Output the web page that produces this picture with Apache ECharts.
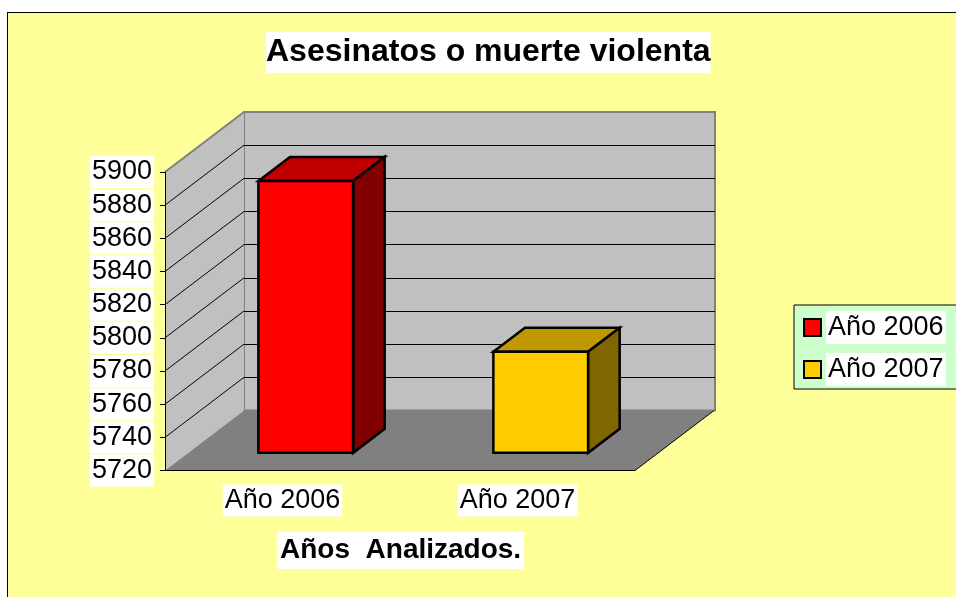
<!DOCTYPE html>
<html>
<head>
<meta charset="utf-8">
<title>Asesinatos o muerte violenta</title>
<script src="https://cdn.jsdelivr.net/npm/echarts@6/dist/echarts.min.js"></script>
<style>
  html, body { margin: 0; padding: 0; background: #fff; overflow: hidden; }
  .marco {
    position: absolute; left: 7px; top: 12px;
    width: 990px; height: 630px;
    border: 1px solid #000; background: #ffff99;
  }
  #grafico { position: absolute; left: 0; top: 0; width: 956px; height: 597px; }
</style>
</head>
<body>
<div class="marco"></div>
<div id="grafico"></div>
<script>
// datos
const categorias = ["Año 2006", "Año 2007"];
const valores = [5884, 5781];
const ticksY = [5720, 5740, 5760, 5780, 5800, 5820, 5840, 5860, 5880, 5900];
const titulo = "Asesinatos o muerte violenta";
const tituloEje = "Años  Analizados.";

// colores de cada barra: frente, arriba, lado
const colores = [
  ["#ff0000", "#c00000", "#800000"],
  ["#ffcc00", "#c09900", "#806600"]
];

const fuente = '"Liberation Sans", Arial, sans-serif';
const ejeMin = ticksY[0];
const ejeMax = ticksY[ticksY.length - 1];
const intervalo = ticksY[1] - ticksY[0];

// proyeccion 3D (desplazamiento de la pared del fondo)
const DX = 79, DY = -60;
const F1 = 0.294, F2 = 0.694; // profundidad de la cara frontal / trasera de la barra
const ANCHO_BARRA = 0.403;

const chart = echarts.init(document.getElementById("grafico"));

function barra3d(caras) {
  return function (params, api) {
    let cat = api.value(0);
    let cima = api.coord([cat, api.value(1)]);
    let base = api.coord([cat, ejeMin]);
    let ancho = api.size([1, 0])[0] * ANCHO_BARRA;
    let x0 = cima[0] - ancho / 2 + F1 * DX;
    let x1 = x0 + ancho;
    let yT = cima[1] + F1 * DY;
    let yB = base[1] + F1 * DY;
    let bx = (F2 - F1) * DX, by = (F2 - F1) * DY;
    let borde = { stroke: "#000", lineWidth: 2.5, lineJoin: "miter" };
    return {
      type: "group",
      children: [
        {
          type: "polygon",
          shape: { points: [[x0, yT], [x1, yT], [x1 + bx, yT + by], [x0 + bx, yT + by]] },
          style: Object.assign({ fill: caras[1] }, borde)
        },
        {
          type: "polygon",
          shape: { points: [[x1, yT], [x1 + bx, yT + by], [x1 + bx, yB + by], [x1, yB]] },
          style: Object.assign({ fill: caras[2] }, borde)
        },
        {
          type: "rect",
          shape: { x: x0, y: yT, width: ancho, height: yB - yT },
          style: Object.assign({ fill: caras[0] }, borde)
        }
      ]
    };
  };
}

let option = {
  backgroundColor: "transparent",
  animation: false,
  title: [
    {
      text: titulo,
      left: 266,
      top: 32,
      padding: [4, 0],
      backgroundColor: "#fff",
      textStyle: { fontFamily: fuente, fontWeight: "bold", fontSize: 32, lineHeight: 33, color: "#000" }
    },
    {
      text: tituloEje,
      left: 277,
      top: 532,
      padding: [4, 3],
      backgroundColor: "#fff",
      textStyle: { fontFamily: fuente, fontWeight: "bold", fontSize: 28, lineHeight: 29, color: "#000" }
    }
  ],
  legend: {
    data: categorias.map((c, i) => ({
      name: c,
      itemStyle: { color: colores[i][0], borderColor: "#000", borderWidth: 2 }
    })),
    orient: "vertical",
    left: 794,
    top: 305,
    padding: [6, 20, 3, 9],
    itemGap: 9,
    itemWidth: 17,
    itemHeight: 17,
    icon: "rect",
    selectedMode: false,
    backgroundColor: "#ccffcc",
    borderColor: "#000",
    borderWidth: 1,
    textStyle: {
      fontFamily: fuente, fontSize: 27, color: "#000",
      backgroundColor: "#fff", padding: [2, 2], lineHeight: 29
    }
  },
  grid: [
    { left: 165, top: 172, width: 470, height: 298.5 },
    {
      left: 165 + DX, top: 172 + DY, width: 471, height: 298.5,
      show: true, backgroundColor: "#c0c0c0", borderColor: "#808080", borderWidth: 2, z: 0
    }
  ],
  xAxis: [
    {
      gridIndex: 0,
      type: "category",
      data: categorias,
      z: 4,
      axisLine: { lineStyle: { color: "#000", width: 1 } },
      axisTick: { length: 6, lineStyle: { color: "#000" } },
      axisLabel: {
        margin: 14, fontFamily: fuente, fontSize: 27, color: "#000",
        backgroundColor: "#fff", padding: [2, 2], lineHeight: 28
      }
    },
    { gridIndex: 1, type: "category", data: categorias, show: false }
  ],
  yAxis: [
    {
      gridIndex: 0,
      type: "value",
      min: ejeMin,
      max: ejeMax,
      interval: intervalo,
      z: 4,
      axisLine: { show: true, lineStyle: { color: "#000", width: 1 } },
      axisTick: { show: true, length: 5, lineStyle: { color: "#000" } },
      axisLabel: {
        margin: 11, fontFamily: fuente, fontSize: 27, color: "#000",
        backgroundColor: "#fff", padding: [2, 2], lineHeight: 28,
        formatter: (v) => String(v)
      },
      splitLine: { show: false }
    },
    {
      gridIndex: 1,
      type: "value",
      min: ejeMin,
      max: ejeMax,
      interval: intervalo,
      z: 0,
      axisLine: { show: false },
      axisTick: { show: false },
      axisLabel: { show: false },
      splitLine: { show: true, showMinLine: false, showMaxLine: false, lineStyle: { color: "#000", width: 1 } }
    }
  ],
  series: [
    {
      name: "paredes",
      type: "custom",
      xAxisIndex: 0,
      yAxisIndex: 0,
      z: 1,
      silent: true,
      clip: false,
      data: [[0, ejeMin]],
      renderItem: function (params) {
        let r = params.coordSys;
        let xL = r.x, xR = r.x + r.width, yT = r.y, yB = r.y + r.height;
        return {
          type: "group",
          children: [
            {
              type: "polygon",
              shape: { points: [[xL, yB], [xL, yT], [xL + DX, yT + DY], [xL + DX, yB + DY]] },
              style: { fill: "#c0c0c0" }
            },
            {
              type: "line",
              shape: { x1: xL, y1: yT, x2: xL + DX, y2: yT + DY },
              style: { stroke: "#808080", lineWidth: 2 }
            },
            {
              type: "polygon",
              shape: { points: [[xL, yB], [xR, yB], [xR + DX, yB + DY], [xL + DX, yB + DY]] },
              style: { fill: "#808080" }
            },
            {
              type: "line",
              shape: { x1: xR, y1: yB, x2: xR + DX, y2: yB + DY },
              style: { stroke: "#000", lineWidth: 1 }
            }
          ]
        };
      }
    },
    {
      name: "rejilla lateral",
      type: "custom",
      xAxisIndex: 0,
      yAxisIndex: 0,
      z: 1,
      silent: true,
      clip: false,
      data: ticksY.filter((v) => v > ejeMin && v < ejeMax).map((v) => [0, v]),
      renderItem: function (params, api) {
        let p = api.coord([0, api.value(1)]);
        let x = params.coordSys.x;
        return {
          type: "line",
          shape: { x1: x, y1: p[1], x2: x + DX, y2: p[1] + DY },
          style: { stroke: "#000", lineWidth: 1 }
        };
      }
    }
  ].concat(categorias.map((c, i) => ({
    name: c,
    type: "custom",
    xAxisIndex: 0,
    yAxisIndex: 0,
    z: 2,
    clip: false,
    itemStyle: { color: colores[i][0], borderColor: "#000", borderWidth: 2 },
    data: [[i, valores[i]]],
    renderItem: barra3d(colores[i])
  })))
};

chart.setOption(option);
</script>
</body>
</html>
